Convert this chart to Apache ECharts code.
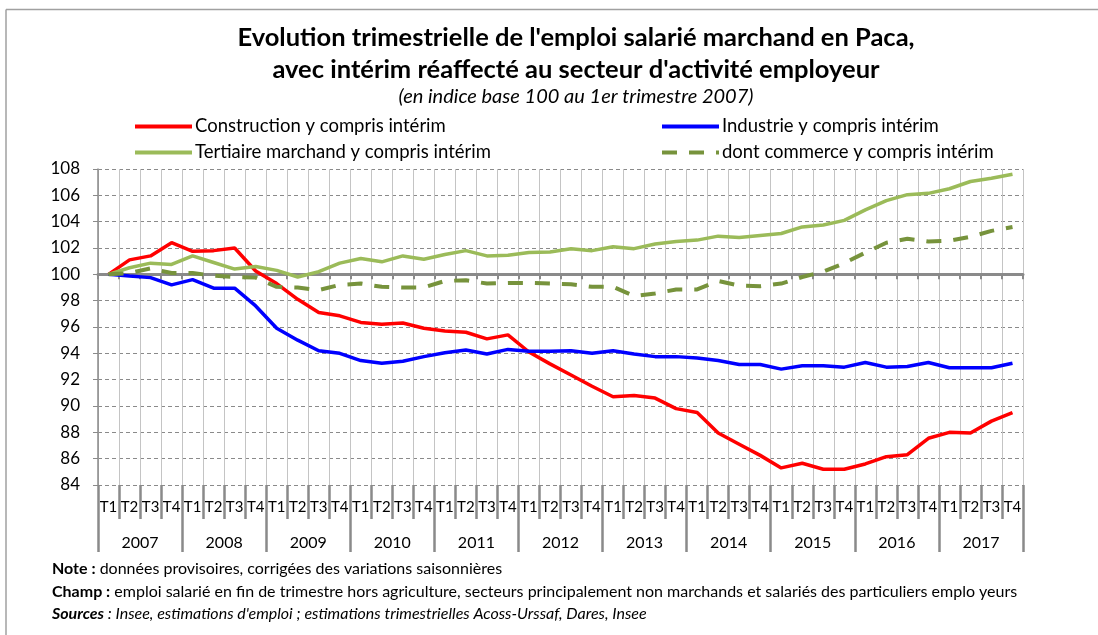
<!DOCTYPE html>
<html>
<head>
<meta charset="utf-8">
<script src="https://cdn.jsdelivr.net/npm/echarts@6/dist/echarts.min.js"></script>
<style>
  html, body { margin: 0; padding: 0; background: #fff; }
  #main { width: 1098px; height: 635px; }
</style>
</head>
<body>
<div id="main"></div>
<script>
// trimestres 2007 T1 -> 2017 T4
const years = ['2007','2008','2009','2010','2011','2012','2013','2014','2015','2016','2017'];
const quarters = [];
years.forEach(function () { quarters.push('T1','T2','T3','T4'); });

const construction = [100,101.1,101.4,102.4,101.75,101.8,102.0,100.25,99.3,98.1,97.1,96.85,96.35,96.2,96.3,
  95.9,95.7,95.6,95.1,95.4,94.1,93.2,92.35,91.5,90.7,90.8,90.6,89.8,89.5,87.95,
  87.1,86.25,85.3,85.65,85.2,85.2,85.6,86.15,86.3,87.55,88.0,87.95,88.85,89.5];
const industrie = [100,99.87,99.75,99.2,99.6,98.95,98.95,97.6,95.9,95.0,94.2,94.0,93.45,93.25,93.4,
  93.75,94.05,94.25,93.95,94.3,94.15,94.15,94.2,94.0,94.2,93.95,93.75,93.75,93.65,93.45,
  93.15,93.15,92.8,93.05,93.05,92.95,93.3,92.95,93.0,93.3,92.9,92.9,92.9,93.25];
const tertiaire = [100,100.5,100.85,100.75,101.4,100.9,100.4,100.6,100.3,99.8,100.2,100.85,101.2,100.95,101.4,
  101.15,101.5,101.8,101.4,101.45,101.65,101.7,101.95,101.8,102.1,101.95,102.3,102.5,102.6,102.9,
  102.8,102.95,103.1,103.6,103.75,104.1,104.9,105.6,106.05,106.15,106.5,107.05,107.3,107.6];
const commerce = [100,100.1,100.45,100.1,100.1,99.9,99.8,99.75,99.05,99.0,98.8,99.2,99.3,99.05,99.0,
  99.0,99.5,99.55,99.3,99.35,99.35,99.3,99.25,99.05,99.05,98.35,98.55,98.85,98.85,99.5,
  99.15,99.1,99.3,99.8,100.2,100.85,101.65,102.4,102.7,102.5,102.55,102.85,103.3,103.6];

const FONT = 'Lato';
const chart = echarts.init(document.getElementById('main'));

function legendAt(name, left, top) {
  return {
    data: [name], left: left, top: top,
    itemWidth: 57, itemHeight: 14, itemGap: 0,
    itemStyle: { opacity: 0 },
    lineStyle: { width: 4 },
    textStyle: { fontFamily: FONT, fontSize: 18.5, color: '#000', padding: [0, 0, 0, -2] }
  };
}

const option = {
  backgroundColor: '#fff',
  animation: false,
  textStyle: { fontFamily: FONT },
  title: {
    text: "Evolution trimestrielle de l'emploi salarié marchand en Paca,\navec intérim réaffecté au secteur d'activité employeur",
    subtext: '(en indice base 100 au 1er trimestre 2007)',
    left: 571, top: 17, textAlign: 'center', itemGap: 1,
    textStyle: { fontFamily: FONT, fontSize: 25.5, fontWeight: 'bold', color: '#000', lineHeight: 32 },
    subtextStyle: { fontFamily: FONT, fontSize: 20, fontStyle: 'italic', color: '#000' }
  },
  legend: [
    legendAt('Construction y compris intérim', 128, 112),
    legendAt('Industrie y compris intérim', 655, 112),
    legendAt('Tertiaire marchand y compris intérim', 128, 138),
    legendAt('dont commerce y compris intérim', 655, 138)
  ],
  grid: { left: 98, right: 75, top: 169, bottom: 150 },
  xAxis: [
    {
      type: 'category', data: quarters, position: 'bottom',
      axisLine: { show: false },
      axisTick: { show: true, interval: 0, length: 34, lineStyle: { color: '#8a8a8a', width: 2.5 } },
      axisLabel: { interval: 0, margin: 15, fontFamily: FONT, fontSize: 15, color: '#000' },
      splitLine: { show: true, interval: 0, lineStyle: { color: '#c4c4c4', width: 1 } }
    },
    {
      type: 'category', data: years, position: 'bottom',
      axisLine: { show: false },
      axisTick: { show: true, interval: 0, length: 67, lineStyle: { color: '#8a8a8a', width: 2.5 } },
      axisLabel: { interval: 0, margin: 50, fontFamily: FONT, fontSize: 16, color: '#000' },
      splitLine: { show: false }
    },
    {
      type: 'category', data: quarters, position: 'top', offset: -105.3,
      axisLine: { show: true, lineStyle: { color: '#8a8a8a', width: 3 } },
      axisTick: { show: true, inside: true, interval: 0, length: 5, lineStyle: { color: '#8a8a8a', width: 2 } },
      axisLabel: { show: false },
      splitLine: { show: false }
    }
  ],
  yAxis: {
    type: 'value', min: 84, max: 108, interval: 2,
    axisLine: { show: true, lineStyle: { color: '#8a8a8a', width: 1.5 } },
    axisTick: { show: true, length: 5, lineStyle: { color: '#8a8a8a' } },
    axisLabel: { margin: 18, fontFamily: FONT, fontSize: 17, color: '#000' },
    splitLine: { show: true, lineStyle: { type: [4, 3], color: '#8a8a8a', width: 1 } }
  },
  series: [
    { name: 'Construction y compris intérim', type: 'line', data: construction, symbol: 'none',
      color: '#ff0000', lineStyle: { width: 3.5 } },
    { name: 'Industrie y compris intérim', type: 'line', data: industrie, symbol: 'none',
      color: '#0000ff', lineStyle: { width: 3.5 } },
    { name: 'Tertiaire marchand y compris intérim', type: 'line', data: tertiaire, symbol: 'none',
      color: '#9bbb59', lineStyle: { width: 3.5 } },
    { name: 'dont commerce y compris intérim', type: 'line', data: commerce, symbol: 'none',
      color: '#77933c', lineStyle: { width: 4, type: [15, 12] } }
  ],
  graphic: [
    { type: 'line', shape: { x1: 6, y1: 9.5, x2: 1098, y2: 9.5 }, style: { stroke: '#a0a0a0', lineWidth: 1.5 } },
    { type: 'line', shape: { x1: 6, y1: 9.5, x2: 6, y2: 635 }, style: { stroke: '#a0a0a0', lineWidth: 1.5 } },
    {
      type: 'text', left: 52, top: 561,
      style: {
        text: '{b|Note :} données provisoires, corrigées des variations saisonnières',
        font: '16px Lato', fill: '#000',
        rich: { b: { fontFamily: FONT, fontSize: 16, fontWeight: 'bold' } }
      }
    },
    {
      type: 'text', left: 52, top: 584,
      style: {
        text: '{b|Champ :} emploi salarié en fin de trimestre hors agriculture, secteurs principalement non marchands et salariés des particuliers emplo yeurs',
        font: '16px Lato', fill: '#000',
        rich: { b: { fontFamily: FONT, fontSize: 16, fontWeight: 'bold' } }
      }
    },
    {
      type: 'text', left: 52, top: 606,
      style: {
        text: "{b|Sources} : Insee, estimations d'emploi ; estimations trimestrielles Acoss-Urssaf, Dares, Insee",
        font: 'italic 16px Lato', fill: '#000',
        rich: { b: { fontFamily: FONT, fontSize: 16, fontWeight: 'bold', fontStyle: 'italic' } }
      }
    }
  ]
};

chart.setOption(option);
window.addEventListener('resize', function () { chart.resize(); });
</script>
</body>
</html>
